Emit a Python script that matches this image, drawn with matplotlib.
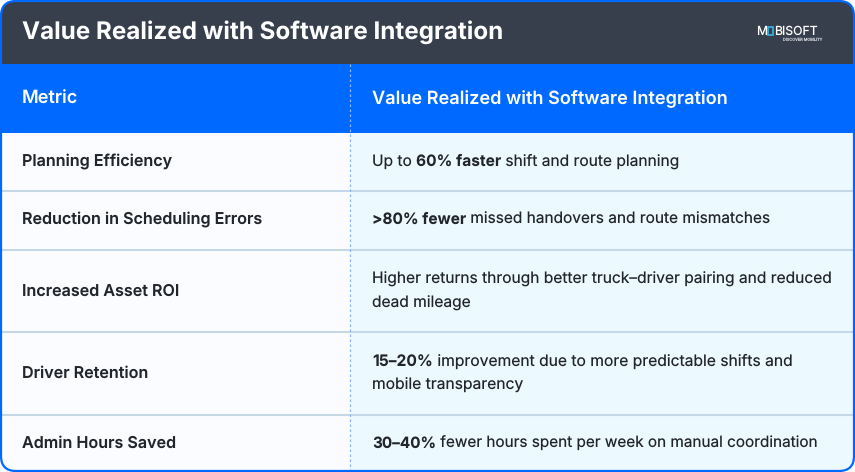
import matplotlib
matplotlib.use('Agg')
import matplotlib.pyplot as plt
from matplotlib.patches import FancyBboxPatch, Rectangle

plt.rcParams['font.family'] = ['Inter', 'DejaVu Sans']
plt.rcParams['text.hinting'] = 'none'

title = 'Value Realized with Software Integration'
headers = ['Metric', 'Value Realized with Software Integration']
metrics = ['Planning Efficiency', 'Reduction in Scheduling Errors', 'Increased Asset ROI',
           'Driver Retention', 'Admin Hours Saved']
# each row is a list of lines, each line a list of (text, is_bold) runs
values = [
    [[('Up to ', False), ('60% faster', True), (' shift and route planning', False)]],
    [[('>80% fewer', True), (' missed handovers and route mismatches', False)]],
    [[('Higher returns through better truck\u2013driver pairing and reduced', False)],
     [('dead mileage', False)]],
    [[('15\u201320%', True), (' improvement due to more predictable shifts and', False)],
     [('mobile transparency', False)]],
    [[('30\u201340%', True), (' fewer hours spent per week on manual coordination', False)]],
]
row_edges = [133, 190.5, 249.5, 332, 414.5, 472]
row_centers = [160, 218.5, 289.5, 371.5, 442]
# widths drift a little per row against the original's font
body_sizes = [11.2, 11.12, 11.2, 11.25, 11.03]

BLUE = '#0069ff'
DARK = '#373f4d'
INK = '#22262b'

fig = plt.figure(figsize=(8.55, 4.72), dpi=100)
ax = fig.add_axes([0, 0, 1, 1])
ax.set_xlim(0, 855)
ax.set_ylim(472, 0)
ax.axis('off')

# rounded frame, everything inside gets clipped to it
frame = FancyBboxPatch((1, 1), 853, 470, boxstyle='round,pad=0,rounding_size=15',
                       fc='none', ec='none', transform=ax.transData)
ax.add_patch(frame)

def block(x, y, w, h, color):
    r = Rectangle((x, y), w, h, fc=color, ec='none', zorder=1)
    ax.add_patch(r)
    r.set_clip_path(frame)

block(0, 0, 855, 64, DARK)
block(0, 64, 855, 69, BLUE)
block(0, 133, 350, 339, '#fafcff')
block(350, 133, 505, 339, '#ecf9ff')

for y in row_edges[1:-1]:
    ax.plot([0, 855], [y, y], color='#c5d8e8', lw=1.5, zorder=2, solid_capstyle='butt')
ax.plot([349.8, 349.8], [64, 472], color='#8fb6ee', lw=0.9, ls=(0, (2, 2)), zorder=3)

border = FancyBboxPatch((1, 1), 853, 470, boxstyle='round,pad=0,rounding_size=15',
                        fc='none', ec=BLUE, lw=1.6, zorder=5)
ax.add_patch(border)

ax.text(22, 29.5, title, color='white', fontsize=17.45, fontweight='bold', va='center_baseline', zorder=6)
ax.text(22, 97.5, headers[0], color='white', fontsize=13.05, fontweight='semibold', va='center_baseline', zorder=6)
ax.text(372, 97.5, headers[1], color='white', fontsize=13.05, fontweight='semibold', va='center_baseline', zorder=6)

# logo
ax.text(756, 30.5, 'M', color='white', fontsize=8.8, va='center_baseline', zorder=6)
ax.add_patch(Rectangle((767.5, 26.5), 5, 8, fc='none', ec='#35b7e8', lw=1.2, zorder=6))
ax.text(774, 30.5, 'BISOFT', color='white', fontsize=8.8, va='center_baseline', zorder=6)
ax.text(783, 39, 'DISCOVER MOBILITY', color='#c8ccd2', fontsize=2.8, va='center_baseline', zorder=6)

fig.canvas.draw()
rend = fig.canvas.get_renderer()

def draw_runs(x, y, runs, size):
    # place bold and regular pieces one after the other
    for s, is_bold in runs:
        weight = 'bold' if is_bold else 'normal'
        ax.text(x, y, s, color=INK, fontsize=size, va='center_baseline', zorder=6, fontweight=weight)
        # trailing spaces are not measured reliably, so measure with a stand-in
        w = ax.text(0, 0, s.replace(' ', '\u00a0'), fontsize=size, fontweight=weight)
        x += w.get_window_extent(rend).width
        w.remove()

for i, name in enumerate(metrics):
    mid = row_centers[i]
    ax.text(22, mid, name, color=INK, fontsize=11.6, fontweight='semibold',
            va='center_baseline', zorder=6)
    lines = values[i]
    for j, runs in enumerate(lines):
        y = mid + (j - (len(lines) - 1) / 2) * 24
        draw_runs(372, y, runs, body_sizes[i])

fig.savefig('out.png', dpi=100)
